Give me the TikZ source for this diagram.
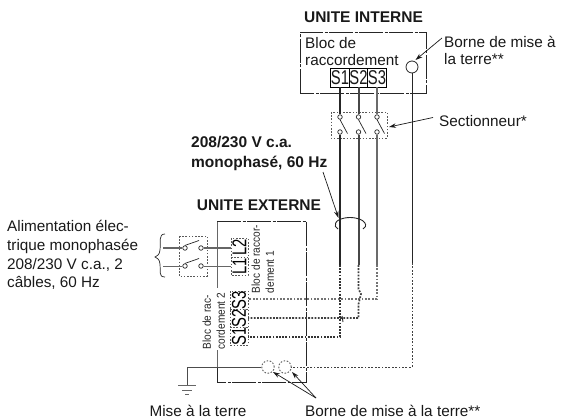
\documentclass[tikz,border=0pt]{standalone}
\usepackage{fontspec}
\usepackage{graphicx}
\setmainfont{Liberation Sans}
\usetikzlibrary{arrows.meta,calc}
\newcommand{\termtxt}[1]{\scalebox{0.74}[1]{\fontsize{20}{20}\selectfont #1}}
\newcommand{\smalltext}[1]{\scalebox{0.88}[1]{\fontsize{11.5}{14}\selectfont\begin{tabular}{@{}l@{}}#1\end{tabular}}}
\tikzset{
  txt/.style={inner sep=0pt,font=\fontsize{15.3}{17}\selectfont,text=black!90,align=left},
  boldtxt/.style={inner sep=0pt,font=\fontsize{15.5}{20.5}\bfseries\selectfont,text=black!90,align=left},
  smalltxt/.style={inner sep=0pt,rotate=90,text=black!85},
  unitbox/.style={line width=0.9pt,draw=black!85,dash pattern=on 24pt off 1.5pt on 3pt off 1.5pt},
  dots/.style={line width=0.9pt,draw=black!65,dash pattern=on 1.6pt off 1.6pt},
  wirea/.style={line width=2.4pt,draw=black!85},
  wireb/.style={line width=2pt,draw=black!72},
  wirec/.style={line width=1.4pt,draw=black!58},
  wired/.style={line width=0.8pt,draw=black!85},
  dota/.style={line width=2pt,draw=black!80,dash pattern=on 1.8pt off 1.4pt},
  dotb/.style={line width=1.7pt,draw=black!75,dash pattern=on 1.8pt off 1.4pt},
  dotc/.style={line width=1.1pt,draw=black!55,dash pattern=on 1.8pt off 1.6pt},
  dotd/.style={line width=1pt,draw=black!75,dash pattern=on 1.8pt off 1.6pt},
  pin/.style={circle,draw=black!85,line width=0.7pt,fill=white,minimum size=4.5pt,inner sep=0pt},
  lever/.style={line width=0.7pt,draw=black!85},
  callout/.style={line width=0.7pt,draw=black!90,-{Stealth[length=7pt,width=4.5pt]}},
  term/.style={inner sep=0pt,minimum width=18.5pt,minimum height=19pt,text=black!90},
  gnd/.style={line width=1pt,draw=black!60}
}
\begin{document}
\begin{tikzpicture}[x=1pt,y=-1pt]
\useasboundingbox (0,0) rectangle (561,419);
% indoor unit
\draw[unitbox] (300,93) -- (300,32) -- (426,32) -- (426,93) -- (300,93);
\node[boldtxt,anchor=center] (ui) at (363.5,17) {UNITE INTERNE};
\node[txt,anchor=west] (bloc) at (305,43.5) {Bloc de};
\node[txt,anchor=west] (racc) at (305,60) {raccordement};
\node[term,draw=black,line width=0.9pt] (is1) at (340,77.5) {\termtxt{S1}};
\node[term,draw=black,line width=0.9pt] (is2) at (358.5,77.5) {\termtxt{S2}};
\node[term,draw=black,line width=0.9pt] (is3) at (377,77.5) {\termtxt{S3}};
\node[circle,draw=black!85,line width=0.8pt,minimum size=12pt,inner sep=0pt] (iearth) at (412,67) {};
\node[txt,anchor=west] (bornei) at (444,50) {Borne de mise à\\la terre**};
\coordinate (biarrow) at (442,38);
\draw[callout] (biarrow) -- (415.5,60);
% disconnect switch
\draw[dots] (331,112) rectangle (387,138);
\foreach \n/\x in {1/340,2/358.5,3/377}{
  \node[pin] (st\n) at (\x,117) {};
  \node[pin] (sb\n) at (\x,132) {};
  \draw[lever] (st\n.south) -- ($(st\n.south)+(7.5,14)$);
}
\draw[wirea] (is1) -- (st1);
\draw[wireb] (is2) -- (st2);
\draw[wirec] (is3) -- (st3);
\node[txt,anchor=west] (sect) at (439,121.5) {Sectionneur*};
\coordinate (searrow) at (433,117.5);
\draw[callout] (searrow) -- (389,127);
% wires down
\coordinate (e1) at (340,265);
\coordinate (e2) at (358.5,265);
\coordinate (e3) at (377,265);
\coordinate (e4) at (412,263);
\draw[wirea] (sb1) -- (e1);
\draw[wireb] (sb2) -- (e2);
\draw[wirec] (sb3) -- (e3);
\draw[wired] (iearth) -- (e4);
% cable label
\node[boldtxt,anchor=west] (volt) at (191,153.5) {208/230 V c.a.\\monophasé, 60 Hz};
\coordinate (varrow) at (323,172);
\draw[callout] (varrow) -- (338.5,218);
% cable loop
\coordinate (la) at (338,229);
\coordinate (lb) at (363,229);
\draw[line width=0.9pt,draw=black!85] (la) .. controls (333,227) and (333,218) .. (350,217.5) .. controls (367,218) and (368,227) .. (lb);
% outdoor unit
\node[boldtxt,anchor=center] (ue) at (259,205) {UNITE EXTERNE};
\draw[line width=0.9pt,draw=black!60] (217,221) -- (217,288);
\draw[line width=0.9pt,draw=black!60] (217,350) -- (217,368);
\draw[unitbox] (217,221) -- (306,221) -- (306,382) -- (217,382) -- (217,367);
% outdoor terminals
\draw[dots] (231,238) rectangle (248,275.5);
\draw[dots] (231,257) -- (248,257);
\draw[dots] (230,291) rectangle (248,345);
\draw[dots] (230,309) -- (248,309);
\draw[dots] (230,327) -- (248,327);
\node[inner sep=0pt,rotate=90] (l2) at (239.5,247.5) {\termtxt{L2}};
\node[inner sep=0pt,rotate=90] (l1) at (239.5,266.5) {\termtxt{L1}};
\node[inner sep=0pt,rotate=90] (os3) at (239,300) {\termtxt{S3}};
\node[inner sep=0pt,rotate=90] (os2) at (239,318) {\termtxt{S2}};
\node[inner sep=0pt,rotate=90] (os1) at (239,336) {\termtxt{S1}};
\node[smalltxt] (bloc1) at (264,259) {\smalltext{Bloc de raccor-\\dement 1}};
\node[smalltxt] (bloc2) at (215,321) {\smalltext{Bloc de rac-\\cordement 2}};
% supply switch
\draw[dots] (179,236) rectangle (207,276);
\coordinate (w1) at (163,248);
\coordinate (w2) at (163,266);
\node[pin] (a1) at (185,248) {};
\node[pin] (b1) at (201,248) {};
\node[pin] (a2) at (185,266) {};
\node[pin] (b2) at (201,266) {};
\draw[lever] (a1.north) -- (199,240.5);
\draw[lever] (a2.north) -- (199,258.5);
\draw[line width=1pt,draw=black!60] (w1) -- (a1) (b1) -- (231,248);
\draw[line width=1pt,draw=black!60] (w2) -- (a2) (b2) -- (231,266);
\node[txt,anchor=west,font=\fontsize{15.3}{18.7}\selectfont] (alim) at (7,255) {Alimentation élec-\\trique monophasée\\208/230 V c.a., 2\\câbles, 60 Hz};
\draw[line width=0.7pt,draw=black!85] (165,234) .. controls (158,234) and (161,242) .. (160,250) .. controls (159.5,255) and (157,256) .. (155,257) .. controls (157,258) and (159.5,259) .. (160,264) .. controls (161,271) and (158,277) .. (165,277);
% dotted wires
\draw[dotc] (e3) -- (377,299) -- (248,299);
\draw[dotb] (e2) -- (358.5,289) -- (361,294) -- (358.5,304) -- (358.5,318) -- (248,318);
\draw[dota] (e1) -- (340,337) -- (248,337);
\draw[line width=0.9pt,draw=black!85] (342,316) -- (343,322);
\draw[dotd] (e4) -- (412,367) -- (291,367);
% earth terminals
\node[circle,dots,minimum size=12.5pt,inner sep=0pt] (g1) at (268,367) {};
\node[circle,dots,minimum size=12.5pt,inner sep=0pt] (g2) at (285,367) {};
\coordinate (g0) at (187,367);
\coordinate (g3) at (187,385);
\draw[line width=0.9pt,draw=black!70] (g1) -- (g0) -- (g3);
\draw[gnd] (178,385.5) -- (196,385.5);
\draw[gnd] (182,390) -- (192,390);
\draw[gnd] (185,394.5) -- (189,394.5);
\node[txt,anchor=center] (mise) at (198,411) {Mise à la terre};
\node[txt,anchor=west] (bornee) at (305,411) {Borne de mise à la terre**};
\coordinate (bt) at (316,398);
\draw[callout] (bt) -- (273,372);
\draw[callout] (bt) -- (292,372);
\end{tikzpicture}
\end{document}
